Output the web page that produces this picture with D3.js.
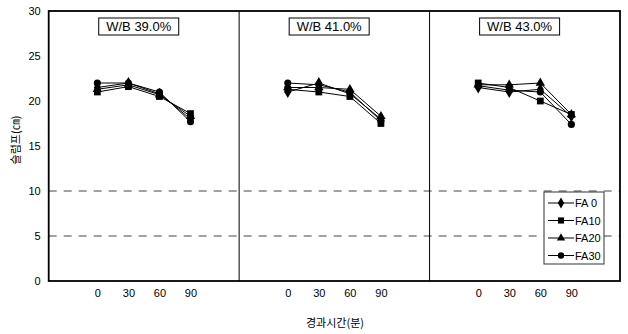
<!DOCTYPE html>
<html>
<head>
<meta charset="utf-8">
<script src="https://cdn.jsdelivr.net/npm/d3@7"></script>
<style>
  body { margin: 0; background: #fff; }
  svg { font-family: "Liberation Sans", Arial, sans-serif; }
</style>
</head>
<body>
<div id="vis"></div>
<script>
// frame constants
const FRAME_WIDTH = 628;
const FRAME_HEIGHT = 334;
const MARGINS = {left: 48.7, right: 8, top: 11, bottom: 53};

const VIS_WIDTH = FRAME_WIDTH - MARGINS.left - MARGINS.right;
const VIS_HEIGHT = FRAME_HEIGHT - MARGINS.top - MARGINS.bottom;

// data
const times = [0, 30, 60, 90];
const panels = ["W/B 39.0%", "W/B 41.0%", "W/B 43.0%"];
const seriesNames = ["FA 0", "FA10", "FA20", "FA30"];

const fa0 = [[21.5, 22.0, 20.8, 18.0], [21.0, 22.0, 20.8, 18.0], [21.5, 21.0, 21.3, 18.3]];
const fa10 = [[21.0, 21.6, 20.5, 18.6], [21.3, 21.0, 20.5, 17.5], [22.0, 21.5, 20.0, 18.5]];
const fa20 = [[21.3, 21.8, 20.7, 18.3], [21.5, 21.5, 21.3, 18.3], [21.8, 21.8, 22.0, 18.5]];
const fa30 = [[22.0, 22.0, 21.0, 17.7], [22.0, 21.8, 21.0, 17.8], [21.7, 21.2, 21.0, 17.4]];

const yTicks = [0, 5, 10, 15, 20, 25, 30];
const dashedLevels = [5, 10];

const allSeries = [fa0, fa10, fa20, fa30];
const symbols = [d3.symbolDiamond, d3.symbolSquare, d3.symbolTriangle, d3.symbolCircle];
const symbolSizes = [42, 46, 38, 40];

const FRAME = d3.select("#vis").append("svg")
  .attr("width", FRAME_WIDTH)
  .attr("height", FRAME_HEIGHT);

const Y_SCALE = d3.scaleLinear().domain([0, 30]).range([MARGINS.top + VIS_HEIGHT, MARGINS.top]);

const PANEL_W = VIS_WIDTH / 3;
const xScale = (i) => d3.scaleLinear()
  .domain([-47, 137])
  .range([MARGINS.left + i * PANEL_W, MARGINS.left + (i + 1) * PANEL_W]);

// dashed reference lines
FRAME.selectAll(".dash")
  .data(dashedLevels)
  .enter()
  .append("line")
    .attr("x1", MARGINS.left)
    .attr("x2", MARGINS.left + VIS_WIDTH)
    .attr("y1", d => Y_SCALE(d))
    .attr("y2", d => Y_SCALE(d))
    .attr("stroke", "#444")
    .attr("stroke-width", 1)
    .attr("stroke-dasharray", "8,7");

// y axis
const yAxis = FRAME.append("g")
  .attr("transform", "translate(" + MARGINS.left + ",0)")
  .call(d3.axisLeft(Y_SCALE).tickValues(yTicks).tickSize(0).tickPadding(8));
yAxis.select(".domain").remove();
yAxis.selectAll("text").attr("font-size", "11px").attr("fill", "#000");

// y label
FRAME.append("text")
  .attr("transform", "translate(20,140) rotate(-90)")
  .attr("text-anchor", "middle")
  .attr("font-family", "'Noto Sans CJK KR', sans-serif")
  .attr("font-size", "11px")
  .text("슬럼프(㎝)");

// x label
FRAME.append("text")
  .attr("x", 335)
  .attr("y", 327)
  .attr("text-anchor", "middle")
  .attr("font-family", "'Noto Sans CJK KR', sans-serif")
  .attr("font-size", "11px")
  .text("경과시간(분)");

panels.forEach((title, i) => {
  const X = xScale(i);

  // x tick labels
  const xAxis = FRAME.append("g")
    .attr("transform", "translate(0," + (MARGINS.top + VIS_HEIGHT) + ")")
    .call(d3.axisBottom(X).tickValues(times).tickSize(0).tickPadding(8));
  xAxis.select(".domain").remove();
  xAxis.selectAll("text").attr("font-size", "11px").attr("fill", "#000");

  // panel divider
  if (i > 0) {
    FRAME.append("line")
      .attr("x1", X.range()[0]).attr("x2", X.range()[0])
      .attr("y1", MARGINS.top).attr("y2", MARGINS.top + VIS_HEIGHT)
      .attr("stroke", "#000").attr("stroke-width", 1);
  }

  // title box
  const cx = X(40);
  FRAME.append("rect")
    .attr("x", cx - 40).attr("y", 18)
    .attr("width", 80).attr("height", 17)
    .attr("fill", "#fff").attr("stroke", "#000").attr("stroke-width", 1);
  FRAME.append("text")
    .attr("x", cx).attr("y", 31)
    .attr("text-anchor", "middle")
    .attr("font-size", "13px")
    .text(title);

  // series
  allSeries.forEach((s, k) => {
    const vals = s[i];
    const line = d3.line().x((d, j) => X(times[j])).y(d => Y_SCALE(d));
    FRAME.append("path")
      .datum(vals)
      .attr("d", line)
      .attr("fill", "none")
      .attr("stroke", "#000")
      .attr("stroke-width", 1);
    FRAME.selectAll(null)
      .data(vals)
      .enter()
      .append("path")
        .attr("d", d3.symbol().type(symbols[k]).size(symbolSizes[k]))
        .attr("transform", (d, j) => "translate(" + X(times[j]) + "," + Y_SCALE(d) + ")")
        .attr("fill", "#000");
  });
});

// frame border
FRAME.append("rect")
  .attr("x", MARGINS.left).attr("y", MARGINS.top)
  .attr("width", VIS_WIDTH).attr("height", VIS_HEIGHT)
  .attr("fill", "none").attr("stroke", "#000").attr("stroke-width", 1.8);

// legend
const LEG = FRAME.append("g").attr("transform", "translate(544,192)");
LEG.append("rect")
  .attr("width", 60).attr("height", 72)
  .attr("fill", "#fff").attr("stroke", "#333").attr("stroke-width", 1);
seriesNames.forEach((name, k) => {
  const yy = 11 + k * 17.5;
  LEG.append("line")
    .attr("x1", 4).attr("x2", 30).attr("y1", yy).attr("y2", yy)
    .attr("stroke", "#000").attr("stroke-width", 1);
  LEG.append("path")
    .attr("d", d3.symbol().type(symbols[k]).size(symbolSizes[k] - 8))
    .attr("transform", "translate(17," + yy + ")")
    .attr("fill", "#000");
  LEG.append("text")
    .attr("x", 31).attr("y", yy + 4)
    .attr("font-size", "11px")
    .text(name);
});
</script>
</body>
</html>
